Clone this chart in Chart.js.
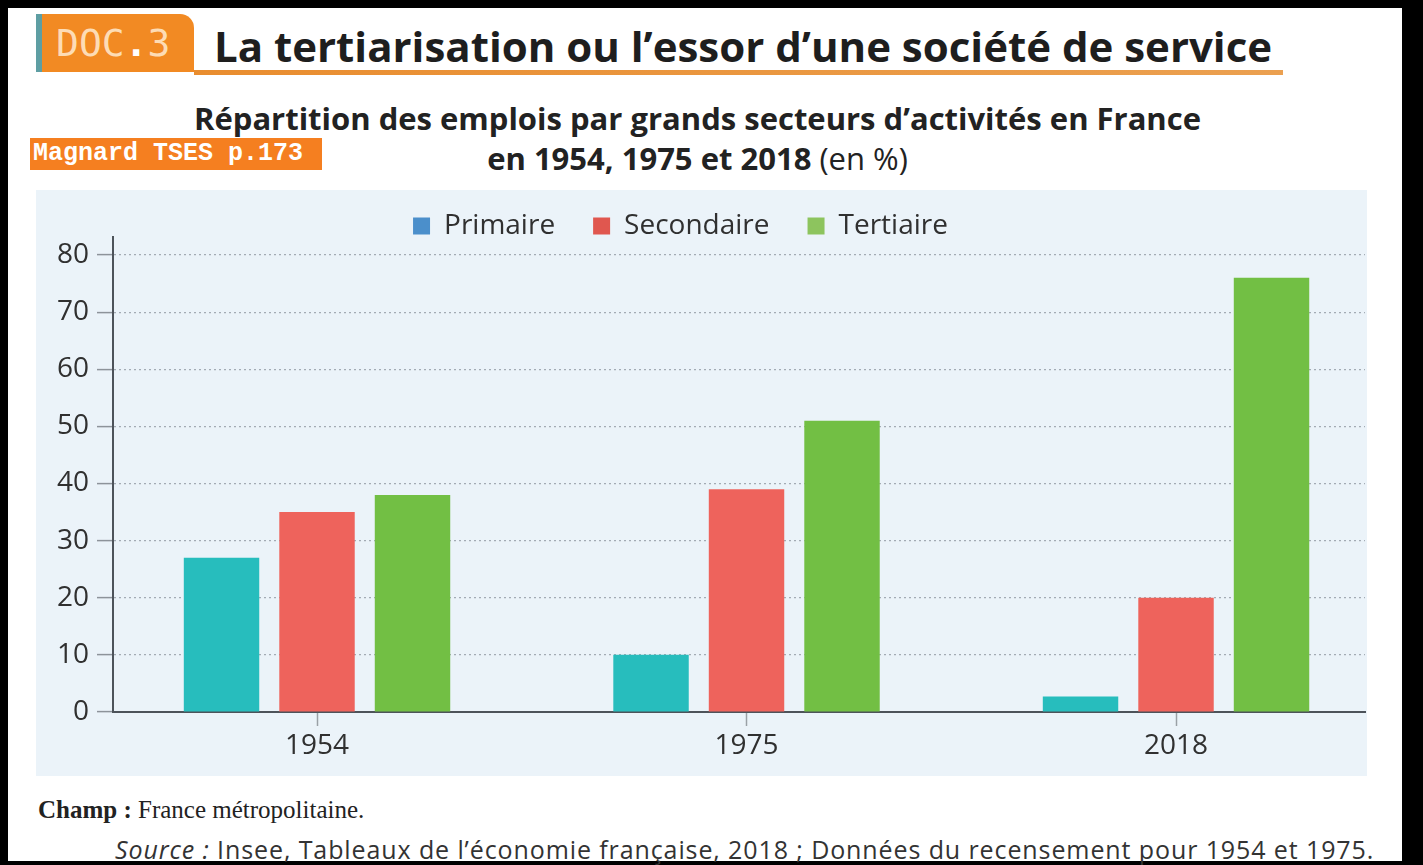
<!DOCTYPE html>
<html lang="fr">
<head>
<meta charset="utf-8">
<title>La tertiarisation</title>
<script src="https://cdn.jsdelivr.net/npm/chart.js@4.4.1/dist/chart.umd.min.js"></script>
<style>
  html, body { margin: 0; padding: 0; }
  body { width: 1423px; height: 865px; background: #000; position: relative; overflow: hidden; font-family: "Open Sans", sans-serif; }
  .sheet { position: absolute; left: 8px; top: 8px; width: 1394px; height: 853px; background: #fff; }
  .abs { position: absolute; white-space: nowrap; }
  .doc { left: 36px; top: 14px; width: 158px; height: 58px; background: #f28a23; border-left: 6px solid #5e9ea3;
         border-top-right-radius: 14px; font-family: "DejaVu Sans Mono", monospace; font-size: 38px; line-height: 58px;
         color: #fddcb5; padding-left: 14px; box-sizing: border-box; }
  .doc b { color: #fff; }
  .title { left: 214px; top: 20px; font-size: 42px; font-weight: 700; color: #1e1e1e; line-height: 52px; }
  .rule { left: 194px; top: 70px; width: 1089px; height: 5px; background: linear-gradient(90deg, #e98d2f, #eba050); }
  .sub { left: 0; width: 1395px; text-align: center; font-size: 31px; font-weight: 700; color: #222; line-height: 40px; }
  .sub span { font-weight: 400; }
  .tag { left: 30px; top: 138px; width: 292px; height: 32px; background: #f57f20; color: #fff;
         font-family: "Liberation Mono", "DejaVu Sans Mono", monospace; font-weight: 700; font-size: 25px; line-height: 32px; padding-left: 3px; box-sizing: border-box; }
  .panel { left: 36px; top: 190px; width: 1331px; height: 586px; background: #ebf3f9; }
  .champ { left: 38px; top: 796px; font-family: "Liberation Serif", serif; font-size: 25px; color: #222; }
  .source { left: 115px; top: 832px; font-size: 25px; letter-spacing: 0.9px; color: #333; }
</style>
</head>
<body>
<div class="sheet"></div>
<div class="abs doc">DOC<b>.</b>3</div>
<div class="abs title">La tertiarisation ou l’essor d’une société de service</div>
<div class="abs rule"></div>
<div class="abs sub" style="top: 98px;">Répartition des emplois par grands secteurs d’activités en France</div>
<div class="abs sub" style="top: 138px;">en 1954, 1975 et 2018 <span>(en %)</span></div>
<div class="abs tag">Magnard TSES p.173</div>
<div class="abs panel"><canvas id="chart" width="1331" height="586"></canvas></div>
<div class="abs champ"><b>Champ :</b> France métropolitaine.</div>
<div class="abs source"><i>Source :</i> Insee, Tableaux de l’économie française, 2018 ; Données du recensement pour 1954 et 1975.</div>

<script>
// données (en %)
const years = ["1954", "1975", "2018"];
const sectors = ["Primaire", "Secondaire", "Tertiaire"];
const primaire = [27, 10, 2.7];
const secondaire = [35, 39, 20];
const tertiaire = [38, 51, 76];
const yTicks = [0, 10, 20, 30, 40, 50, 60, 70, 80];

const series = [primaire, secondaire, tertiaire];
const BAR_COLORS = ["#27bdbd", "#ee635c", "#72bf44"];
const LEGEND_COLORS = ["#4b8fcb", "#e0574f", "#8dc45e"];
const TEXT = "#303030";
const FONT = { family: "'Open Sans', sans-serif", size: 28 };

// légende : hauteur fixe et léger décalage, comme sur le document
const legendTweak = {
  id: "legendTweak",
  beforeInit(chart) {
    if (!chart.legend) return;
    const fit = chart.legend.fit;
    chart.legend.fit = function () { fit.call(this); this.height = 47; };
  },
  afterLayout(chart) {
    const lg = chart.legend;
    lg.top -= 16; // le bas reste en place, sinon le texte est coupé
    lg.left -= 20; lg.right -= 20;
  },
};

new Chart(document.getElementById("chart"), {
  type: "bar",
  data: {
    datasets: series.map((vals, i) => ({
      label: sectors[i],
      data: vals.map((v, j) => ({ x: j, y: v })),
      backgroundColor: BAR_COLORS[i],
      borderWidth: 0,
      barPercentage: 0.79,
      categoryPercentage: 0.667,
    })),
  },
  options: {
    responsive: false,
    animation: false,
    devicePixelRatio: 1,
    layout: { padding: { left: 0, right: 2, top: 0, bottom: 0 } },
    plugins: {
      tooltip: { enabled: false },
      legend: {
        position: "top",
        labels: {
          color: TEXT, font: FONT, boxWidth: 17, boxHeight: 17, padding: 38,
          generateLabels: () => sectors.map((s, i) => ({
            text: s, fillStyle: LEGEND_COLORS[i], strokeStyle: LEGEND_COLORS[i],
            lineWidth: 0, hidden: false, datasetIndex: i, fontColor: TEXT,
          })),
        },
      },
    },
    scales: {
      x: {
        type: "linear",
        min: -0.475,
        max: 2.44,
        offset: false,
        afterBuildTicks: (s) => { s.ticks = years.map((_, i) => ({ value: i })); },
        afterFit: (s) => { s.height = 64; },
        ticks: { callback: (v) => years[v], color: TEXT, font: FONT, padding: 3, autoSkip: false, maxRotation: 0 },
        grid: { drawOnChartArea: false, drawTicks: true, tickLength: 14, tickColor: "#9aa0a6", tickWidth: 1.5, offset: false },
        border: { display: true, color: "#4d535a", width: 2 },
      },
      y: {
        min: 0,
        max: 83.15,
        afterBuildTicks: (s) => { s.ticks = yTicks.map((v) => ({ value: v })); },
        afterFit: (s) => { s.width = 77; },
        ticks: { color: TEXT, font: FONT, padding: 8 },
        grid: {
          color: (ctx) => (ctx.tick && ctx.tick.value === 0 ? "rgba(0,0,0,0)" : "#a3abb4"),
          lineWidth: 1.2, tickLength: 16, tickColor: "#8d939a", tickWidth: 1.5, tickBorderDash: [],
        },
        border: { display: true, color: "#4d535a", width: 2, dash: [2, 3] },
      },
    },
  },
  plugins: [legendTweak],
});
</script>
</body>
</html>
